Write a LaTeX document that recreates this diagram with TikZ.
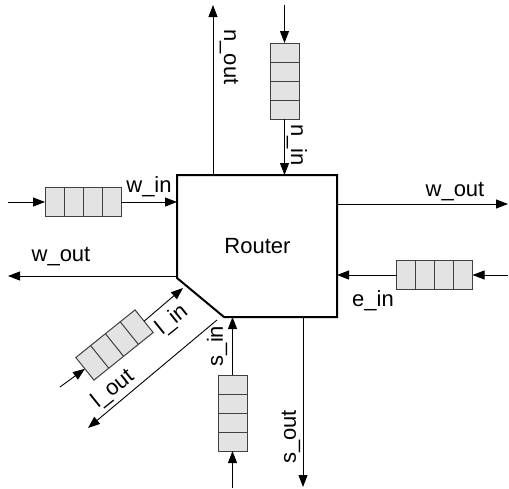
\documentclass[tikz,border=0pt]{standalone}
\usepackage{fontspec}
\setmainfont{Liberation Sans}
\usetikzlibrary{arrows.meta,calc}
\tikzset{
  conn/.style={line width=0.9pt, -{Triangle[length=12pt,width=9pt]}},
  queue/.style={rectangle, draw=black!75, line width=1pt, fill=black!11,
    minimum width=76pt, minimum height=29pt, inner sep=0pt, outer sep=0pt},
  qline/.style={draw=black!75, line width=1pt},
  lbl/.style={font=\fontsize{22}{24}\selectfont, inner sep=0pt},
  routerbox/.style={draw=black, line width=2pt, line join=miter},
}
\newcommand\qbox[3]{%
  \node[queue,rotate=#3] (#1) at (#2) {};
  \foreach \i in {1,2,3}
    \draw[qline] ($(#1.north west)!\i/4!(#1.north east)$) -- ($(#1.south west)!\i/4!(#1.south east)$);
}
\begin{document}
\begin{tikzpicture}[x=1pt,y=-1pt]
\useasboundingbox (0,0) rectangle (509,488);
% router box
\coordinate (rtl) at (177,175);
\coordinate (rtr) at (337,175);
\coordinate (rbr) at (337,317);
\coordinate (rbm) at (224,317);
\coordinate (rlm) at (177,278);
\draw[routerbox] (rtl) -- (rtr) -- (rbr) -- (rbm) -- (rlm) -- cycle;
\node[lbl] (router) at (257.5,246) {Router};
% queues
\qbox{wq}{83,202}{0}
\qbox{nq}{284.5,81}{-90}
\qbox{eq}{434.5,275}{0}
\qbox{sq}{232.5,413}{-90}
\qbox{lq}{114.5,345}{38.8}
% coordinates
\coordinate (win0) at (8,202);
\coordinate (win1) at (177,202);
\coordinate (nout0) at (213,175);
\coordinate (nout1) at (213,5);
\coordinate (nin0) at (284.5,5);
\coordinate (nin1) at (284.5,175);
\coordinate (wout0) at (177,276);
\coordinate (wout1) at (8,276);
\coordinate (eout0) at (337,204);
\coordinate (eout1) at (508,204);
\coordinate (ein0) at (508,275);
\coordinate (ein1) at (337,275);
\coordinate (sout0) at (303,317);
\coordinate (sout1) at (303,487);
\coordinate (sin0) at (232.5,488);
\coordinate (sin1) at (232.5,317);
\coordinate (lin0) at (60,387);
\coordinate (lin1) at (183,288);
\coordinate (lout0) at (217,320);
\coordinate (lout1) at (88,428);
% connectors
\draw[conn] (win0) -- (wq.west);
\draw[conn] (wq.east) -- (win1);
\draw[conn] (nout0) -- (nout1);
\draw[conn] (nin0) -- (nq.west);
\draw[conn] (nq.east) -- (nin1);
\draw[conn] (wout0) -- (wout1);
\draw[conn] (eout0) -- (eout1);
\draw[conn] (ein0) -- (eq.east);
\draw[conn] (eq.west) -- (ein1);
\draw[conn] (sout0) -- (sout1);
\draw[conn] (sin0) -- (sq.east);
\draw[conn] (sq.west) -- (sin1);
\draw[conn] (lin0) -- (lq.west);
\draw[conn] (lq.east) -- (lin1);
\draw[conn] (lout0) -- (lout1);
% labels
\node[lbl] (lwin) at (149,187) {w\_in};
\node[lbl,rotate=-90] (lnout) at (229,57) {n\_out};
\node[lbl,rotate=-90] (lnin) at (297,145) {n\_in};
\node[lbl] (lwout) at (61,257) {w\_out};
\node[lbl] (leout) at (455,192) {w\_out};
\node[lbl] (lein) at (373,301) {e\_in};
\node[lbl,rotate=90] (lsout) at (291,437) {s\_out};
\node[lbl,rotate=90] (lsin) at (217,346) {s\_in};
\node[lbl,rotate=38.8] (llin) at (172,320) {l\_in};
\node[lbl,rotate=38.8] (llout) at (113,389) {l\_out};
\end{tikzpicture}
\end{document}
